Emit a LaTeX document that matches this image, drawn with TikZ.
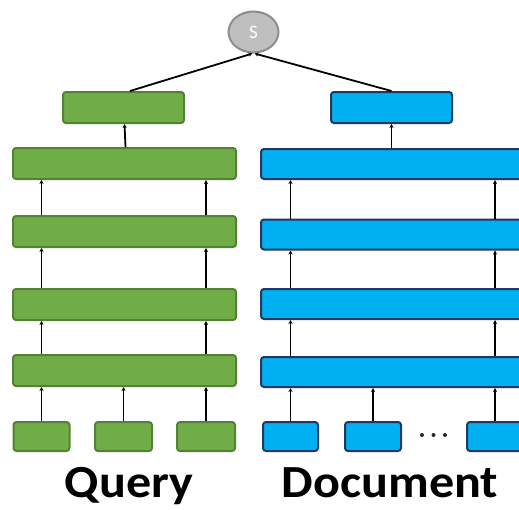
\documentclass[tikz,border=0pt]{standalone}
\usepackage{fontspec}
\setmainfont{Carlito}
\usetikzlibrary{arrows.meta,shapes.geometric}
\definecolor{gfill}{HTML}{70AD47}
\definecolor{gdraw}{HTML}{548235}
\definecolor{bfill}{HTML}{00B0F0}
\definecolor{bdraw}{HTML}{1F3864}
\definecolor{sfill}{HTML}{BFBFBF}
\definecolor{sdraw}{HTML}{8C8C8C}
\begin{document}
\begin{tikzpicture}[x=1pt,y=-1pt,
  gbox/.style={draw=gdraw,fill=gfill,line width=2pt,rounded corners=3pt,inner sep=0pt},
  bbox/.style={draw=bdraw,fill=bfill,line width=2pt,rounded corners=3pt,inner sep=0pt},
  arr/.style={-{Stealth[length=4pt,width=4pt]},line width=1.8pt,black},
  dotmark/.style={circle,fill=black!85,inner sep=0pt,minimum size=4pt},
  lbl/.style={font=\fontsize{46}{46}\selectfont\bfseries,inner sep=0pt,anchor=base,xscale=1.09}]
\useasboundingbox (0,0) rectangle (519,509);
\clip (0,0) rectangle (519,509);
% score node
\node[ellipse,draw=sdraw,fill=sfill,line width=2pt,minimum width=50pt,minimum height=41pt,inner sep=0pt,text=white,font=\fontsize{19}{19}\selectfont] (s) at (253.5,32) {S};
% green (query) column
\node[gbox,minimum width=121pt,minimum height=31pt] (gtop) at (123.5,107.5) {};
\node[gbox,minimum width=223pt,minimum height=31pt] (g1) at (124.5,163.5) {};
\node[gbox,minimum width=223pt,minimum height=31pt] (g2) at (124.5,231.5) {};
\node[gbox,minimum width=223pt,minimum height=31pt] (g3) at (124.5,304.5) {};
\node[gbox,minimum width=223pt,minimum height=31pt] (g4) at (124.5,370.5) {};
\node[gbox,minimum width=56pt,minimum height=29pt] (gs1) at (41.5,436.5) {};
\node[gbox,minimum width=57pt,minimum height=29pt] (gs2) at (123.5,436.5) {};
\node[gbox,minimum width=58pt,minimum height=29pt] (gs3) at (206,436.5) {};
% blue (document) column
\node[bbox,minimum width=121pt,minimum height=31pt] (btop) at (391.5,107.5) {};
\node[bbox,minimum width=270pt,minimum height=30pt] (b1) at (396,164) {};
\node[bbox,minimum width=270pt,minimum height=30pt] (b2) at (396,234.5) {};
\node[bbox,minimum width=270pt,minimum height=30pt] (b3) at (396,304) {};
\node[bbox,minimum width=270pt,minimum height=30pt] (b4) at (396,372) {};
\node[bbox,minimum width=55pt,minimum height=29pt] (bs1) at (290.5,436.5) {};
\node[bbox,minimum width=56pt,minimum height=29pt] (bs2) at (373,436.5) {};
\node[bbox,minimum width=64pt,minimum height=29pt] (bs3) at (499,436.5) {};
\node[dotmark] (d1) at (422,435) {};
\node[dotmark] (d2) at (433.5,435) {};
\node[dotmark] (d3) at (445,435) {};
% labels
\node[lbl] (q) at (129,497) {Query};
\node[lbl] (d) at (390,497) {Document};
% green arrows
\draw[arr] (gs1.north) -- (gs1.north |- g4.south);
\draw[arr] (gs2.north) -- (gs2.north |- g4.south);
\draw[arr] (gs3.north) -- (gs3.north |- g4.south);
\foreach \lo/\hi in {g4/g3,g3/g2,g2/g1}{
  \draw[arr] (\lo.north -| gs1.north) -- (\hi.south -| gs1.north);
  \draw[arr] (\lo.north -| gs3.north) -- (\hi.south -| gs3.north);
}
\draw[arr] ([xshift=1pt]g1.north) -- ([xshift=1pt]gtop.south);
% blue arrows
\draw[arr] (bs1.north) -- (bs1.north |- b4.south);
\draw[arr] (bs2.north) -- (bs2.north |- b4.south);
\coordinate (bx) at (495,436.5);
\draw[arr] (bx |- bs3.north) -- (bx |- b4.south);
\foreach \lo/\hi in {b4/b3,b3/b2,b2/b1}{
  \draw[arr] (\lo.north -| bs1.north) -- (\hi.south -| bs1.north);
  \draw[arr] (\lo.north -| bx) -- (\hi.south -| bx);
}
\draw[arr] (b1.north -| btop.south) -- (btop.south);
% to score
\draw[arr] ([xshift=6.5pt]gtop.north) -- ([xshift=-1pt]s.south);
\draw[arr] (btop.north) -- ([xshift=1pt]s.south);
\end{tikzpicture}
\end{document}
